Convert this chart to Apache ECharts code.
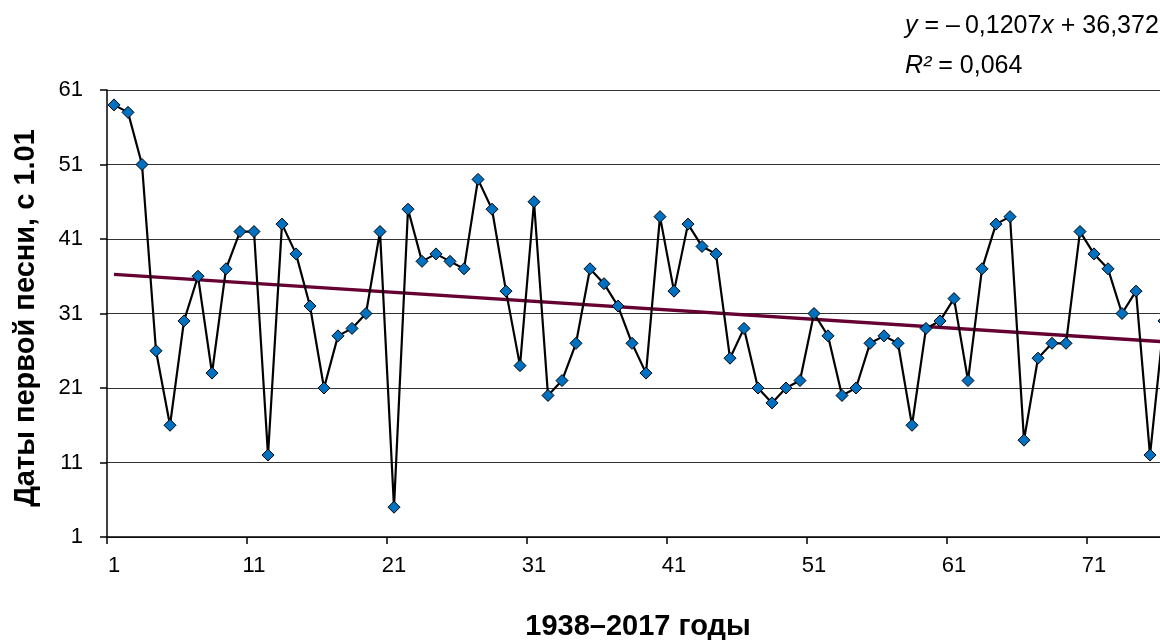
<!DOCTYPE html>
<html>
<head>
<meta charset="utf-8">
<script src="https://cdn.jsdelivr.net/npm/echarts@6/dist/echarts.min.js"></script>
<style>
html,body{margin:0;padding:0;background:#fff;}
#chart{width:1160px;height:640px;}
</style>
</head>
<body>
<div id="chart"></div>
<script>
// Category labels: 80 seasons (1938–2017), numbered 1..80
const categories = [];
for (let i = 1; i <= 80; i++) categories.push(String(i));

// Day of first song (counted from 1 January) (points 1..76 visible)
const firstSongDay = [
  59, 58, 51, 26, 16, 30, 36, 23, 37, 42,
  42, 12, 43, 39, 32, 21, 28, 29, 31, 42,
  5, 45, 38, 39, 38, 37, 49, 45, 34, 24,
  46, 20, 22, 27, 37, 35, 32, 27, 23, 44,
  34, 43, 40, 39, 25, 29, 21, 19, 21, 22,
  31, 28, 20, 21, 27, 28, 27, 16, 29, 30,
  33, 22, 37, 43, 44, 14, 25, 27, 27, 42,
  39, 37, 31, 34, 12, 30
];

// Linear trend shown on the chart: y = -0,1207x + 36,372 ; R² = 0,064
const trendSlope = -0.1207;
const trendIntercept = 36.372;
const trendX = [1, 80];

const yTicks = { min: 1, max: 61, interval: 10 };

const FONT = '"Liberation Sans", Arial, sans-serif';

const trendData = trendX.map(x => [String(x), trendIntercept + trendSlope * x]);

const chart = echarts.init(document.getElementById('chart'), null, { renderer: 'canvas' });
chart.setOption({
  animation: false,
  backgroundColor: '#ffffff',
  title: [
    {
      text: '{i|y} = –\u20090,1207{i|x} + 36,372',
      left: 905, top: 14, padding: 0,
      textStyle: {
        fontSize: 25, fontWeight: 'normal', fontFamily: FONT, color: '#000',
        rich: { i: { fontStyle: 'italic', fontSize: 25, fontFamily: FONT, color: '#000' } }
      }
    },
    {
      text: '{i|R²} = 0,064',
      left: 905, top: 54, padding: 0,
      textStyle: {
        fontSize: 25, fontWeight: 'normal', fontFamily: FONT, color: '#000',
        rich: { i: { fontStyle: 'italic', fontSize: 25, fontFamily: FONT, color: '#000' } }
      }
    }
  ],
  graphic: [
    {
      type: 'text', x: 26, y: 318, rotation: Math.PI / 2,
      style: {
        text: 'Даты первой песни, с 1.01',
        fontSize: 29, fontWeight: 'bold', fontFamily: FONT, fill: '#000',
        align: 'center', verticalAlign: 'middle'
      }
    },
    {
      type: 'text', x: 638, y: 627,
      style: {
        text: '1938–2017 годы',
        fontSize: 29, fontWeight: 'bold', fontFamily: FONT, fill: '#000',
        align: 'center', verticalAlign: 'middle'
      }
    }
  ],
  grid: { left: 107, top: 90, width: 1120, height: 447, containLabel: false, outerBoundsMode: 'none' },
  xAxis: {
    type: 'category',
    data: categories,
    boundaryGap: true,
    axisLine: { show: true, lineStyle: { color: '#000', width: 1.5 } },
    axisTick: { show: true, interval: 9, length: 7, lineStyle: { color: '#000', width: 1.5 } },
    axisLabel: { interval: 9, margin: 18, fontSize: 22, fontFamily: FONT, color: '#000' },
    splitLine: { show: false }
  },
  yAxis: {
    type: 'value',
    min: yTicks.min, max: yTicks.max, interval: yTicks.interval,
    axisLine: { show: true, lineStyle: { color: '#000', width: 1.5 } },
    axisTick: { show: true, length: 7, lineStyle: { color: '#000', width: 1.5 } },
    axisLabel: { margin: 24, fontSize: 22, fontFamily: FONT, color: '#000' },
    splitLine: { show: true, lineStyle: { color: '#333', width: 1.2 } }
  },
  series: [
    {
      name: 'Тренд',
      type: 'line',
      data: trendData,
      showSymbol: false,
      symbol: 'none',
      lineStyle: { color: '#660033', width: 3.5 },
      z: 2,
      silent: true
    },
    {
      name: 'Даты первой песни',
      type: 'line',
      data: firstSongDay,
      symbol: 'diamond',
      symbolSize: 12,
      showSymbol: true,
      showAllSymbol: true,
      lineStyle: { color: '#000', width: 2.2 },
      itemStyle: { color: '#0070C0', borderColor: '#000', borderWidth: 1 },
      z: 3
    }
  ]
});
</script>
</body>
</html>
